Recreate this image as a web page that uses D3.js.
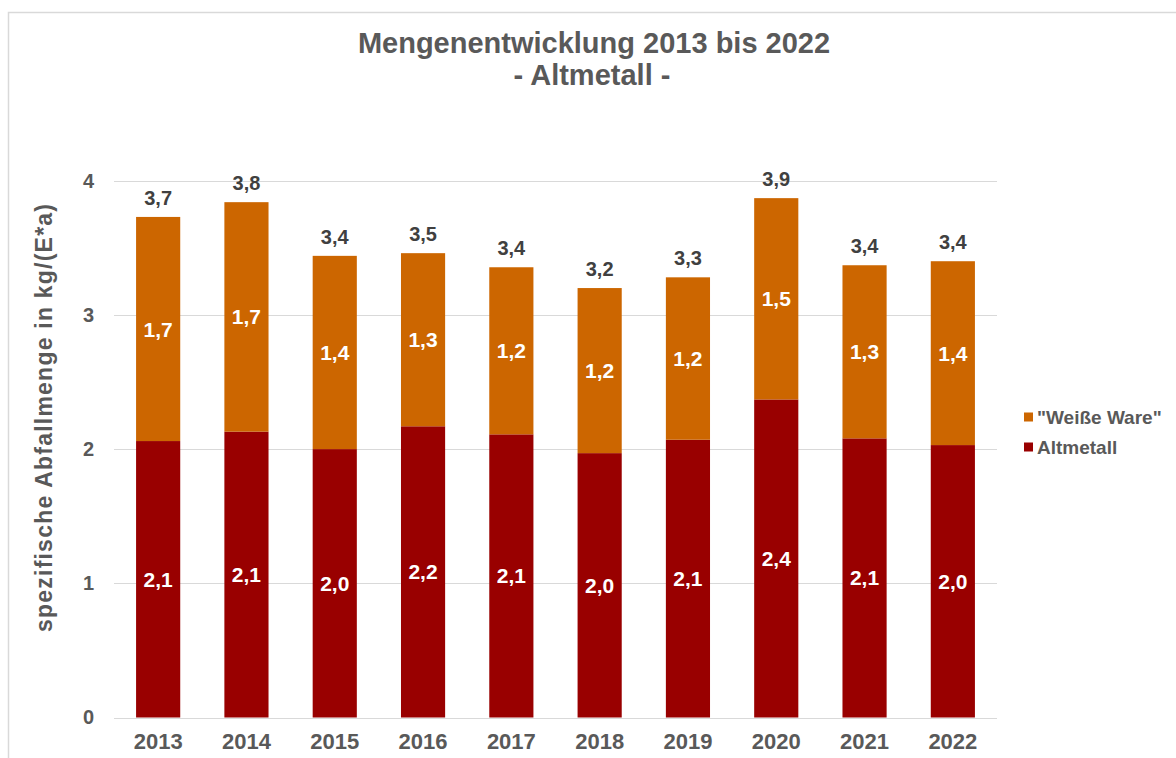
<!DOCTYPE html>
<html lang="de">

<head>
    <meta charset="utf-8">
    <title>Mengenentwicklung Altmetall</title>
    <script src="https://d3js.org/d3.v7.min.js"></script>
    <style type="text/css">
        body {
            margin: 0;
            background: #fff;
        }

        text {
            font-family: "Liberation Sans", Arial, sans-serif;
            font-weight: bold;
        }
    </style>
</head>

<body>
    <script type="text/javascript">

        //data
        const years = ["2013", "2014", "2015", "2016", "2017", "2018", "2019", "2020", "2021", "2022"];
        const altmetall = [2.06, 2.13, 2.00, 2.17, 2.11, 1.97, 2.07, 2.37, 2.08, 2.03];
        const weisseWare = [1.67, 1.71, 1.44, 1.29, 1.245, 1.23, 1.21, 1.50, 1.29, 1.37];
        const yTicks = [0, 1, 2, 3, 4];
        const seriesNames = ["\"Weiße Ware\"", "Altmetall"];

        //svg information
        const width = 1176;
        const height = 758;
        const svg = d3.select("body")
            .append("svg")
            .attr("width", width)
            .attr("height", height);

        const grey = "#595959";
        const colors = { altmetall: "#990000", weisse: "#cc6600" };
        const fmt = v => d3.format(".1f")(v).replace(".", ",");

        //outer frame (only top and left edge visible)
        svg.append("path")
            .attr("d", "M8.5," + height + "V12.5H" + width)
            .attr("fill", "none")
            .attr("stroke", "#d9d9d9")
            .attr("stroke-width", 1.5);

        //title
        svg.append("text")
            .attr("x", 594).attr("y", 53)
            .attr("text-anchor", "middle")
            .attr("font-size", 29)
            .attr("fill", grey)
            .text("Mengenentwicklung 2013 bis 2022");
        svg.append("text")
            .attr("x", 592).attr("y", 85)
            .attr("text-anchor", "middle")
            .attr("font-size", 29)
            .attr("fill", grey)
            .text("- Altmetall -");

        //scales
        const x = d3.scaleBand()
            .domain(years)
            .range([114, 997])
            .paddingInner(0.5)
            .paddingOuter(0.25);

        const y = d3.scaleLinear()
            .domain([0, 4])
            .range([717.5, 180.7]);

        //gridlines
        svg.append("g")
            .selectAll("line")
            .data(yTicks)
            .join("line")
            .attr("x1", 114).attr("x2", 997)
            .attr("y1", d => Math.round(y(d)) + 0.5)
            .attr("y2", d => Math.round(y(d)) + 0.5)
            .attr("stroke", "#d9d9d9")
            .attr("stroke-width", 1);

        //y axis (labels only)
        const yAxis = svg.append("g")
            .attr("transform", "translate(94,0)")
            .call(d3.axisLeft(y).tickValues(yTicks).tickSize(0).tickPadding(0).tickFormat(d3.format("d")));
        yAxis.select(".domain").remove();
        yAxis.selectAll("text")
            .attr("font-size", 20)
            .attr("font-family", null)
            .attr("fill", grey);

        //x axis (labels only)
        const xAxis = svg.append("g")
            .attr("transform", "translate(0,733)")
            .call(d3.axisBottom(x).tickSize(0).tickPadding(0));
        xAxis.select(".domain").remove();
        xAxis.selectAll("text")
            .attr("font-size", 22)
            .attr("font-family", null)
            .attr("fill", grey);

        //y axis title
        svg.append("text")
            .attr("transform", "translate(52,418) rotate(-90)")
            .attr("text-anchor", "middle")
            .attr("font-size", 23)
            .attr("fill", grey)
            .attr("textLength", 428)
            .attr("lengthAdjust", "spacing")
            .text("spezifische Abfallmenge in kg/(E*a)");

        //stacked bars
        const rows = years.map((yr, i) => ({ year: yr, a: altmetall[i], w: weisseWare[i], total: altmetall[i] + weisseWare[i] }));

        const bars = svg.append("g");
        bars.selectAll("rect.alt")
            .data(rows)
            .join("rect")
            .attr("class", "alt")
            .attr("x", d => x(d.year))
            .attr("width", x.bandwidth())
            .attr("y", d => y(d.a))
            .attr("height", d => y(0) - y(d.a))
            .attr("fill", colors.altmetall);

        bars.selectAll("rect.ww")
            .data(rows)
            .join("rect")
            .attr("class", "ww")
            .attr("x", d => x(d.year))
            .attr("width", x.bandwidth())
            .attr("y", d => y(d.total))
            .attr("height", d => y(d.a) - y(d.total))
            .attr("fill", colors.weisse);

        //labels inside segments
        const cx = d => x(d.year) + x.bandwidth() / 2;
        bars.selectAll("text.altLabel")
            .data(rows)
            .join("text")
            .attr("class", "altLabel")
            .attr("x", cx)
            .attr("y", d => y(d.a / 2))
            .attr("dy", "0.36em")
            .attr("text-anchor", "middle")
            .attr("font-size", 21)
            .attr("fill", "#fff")
            .text(d => fmt(d.a));

        bars.selectAll("text.wwLabel")
            .data(rows)
            .join("text")
            .attr("class", "wwLabel")
            .attr("x", cx)
            .attr("y", d => y(d.a + d.w / 2))
            .attr("dy", "0.36em")
            .attr("text-anchor", "middle")
            .attr("font-size", 21)
            .attr("fill", "#fff")
            .text(d => fmt(d.w));

        //totals on top
        bars.selectAll("text.total")
            .data(rows)
            .join("text")
            .attr("class", "total")
            .attr("x", cx)
            .attr("y", d => y(d.total) - 12)
            .attr("text-anchor", "middle")
            .attr("font-size", 20)
            .attr("fill", "#404040")
            .text(d => fmt(d.total));

        //legend
        const legend = svg.append("g")
            .selectAll("g")
            .data(seriesNames)
            .join("g")
            .attr("transform", (d, i) => "translate(1024," + (417 + i * 30) + ")");
        legend.append("rect")
            .attr("x", 0).attr("y", -4.5)
            .attr("width", 9).attr("height", 9)
            .attr("fill", (d, i) => i === 0 ? colors.weisse : colors.altmetall);
        legend.append("text")
            .attr("x", 13)
            .attr("dy", "0.36em")
            .attr("font-size", 19)
            .attr("fill", grey)
            .text(d => d);

    </script>
</body>

</html>
